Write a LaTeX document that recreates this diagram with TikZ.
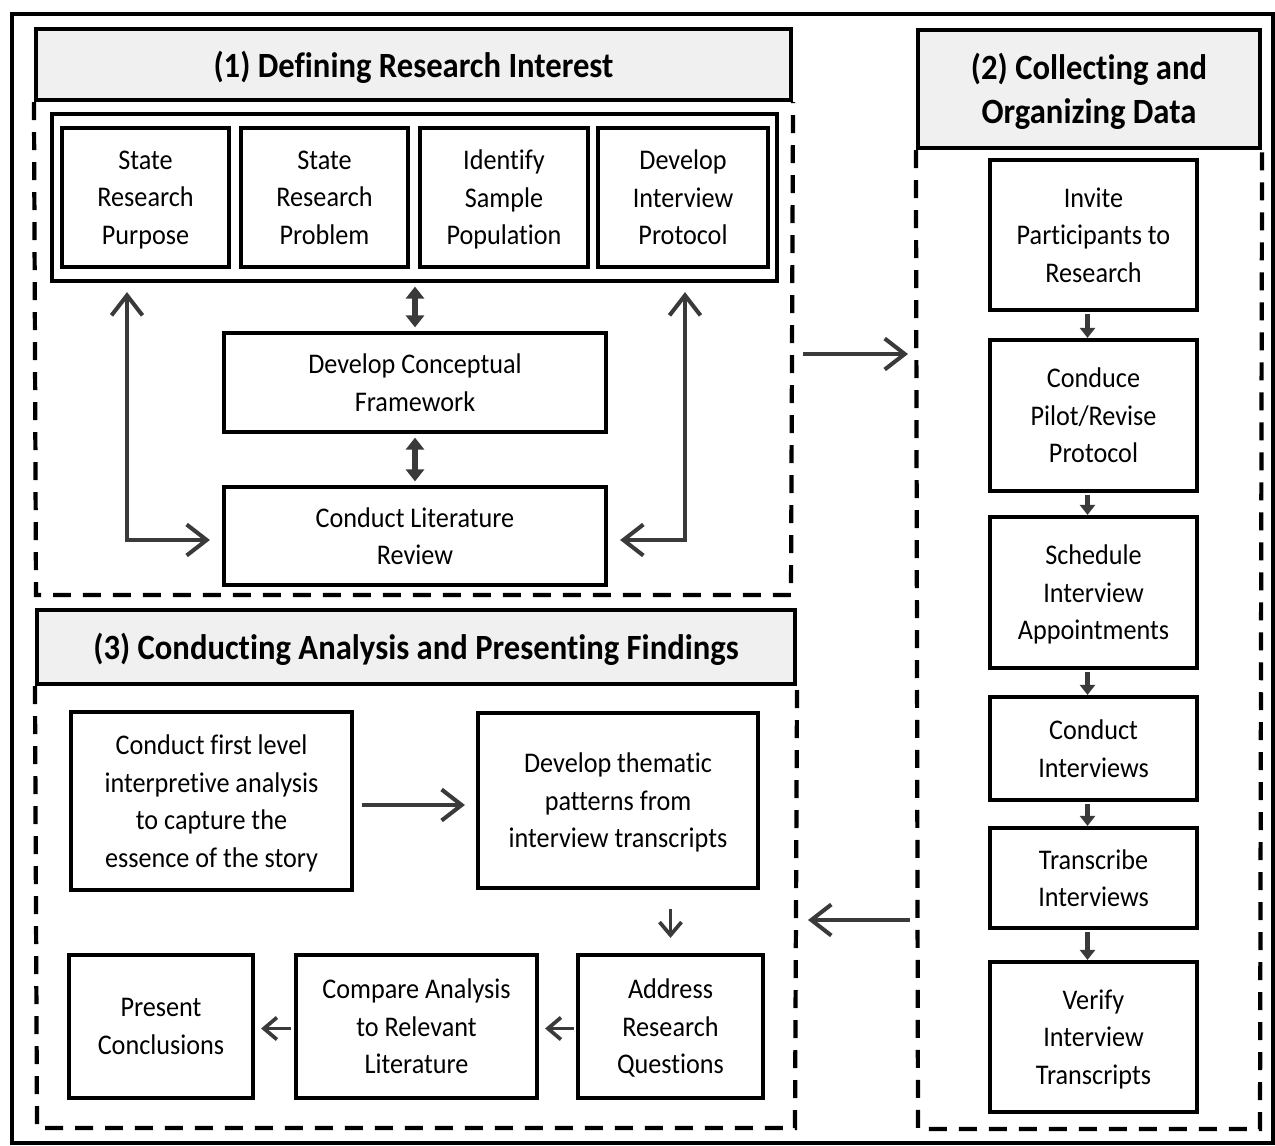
\documentclass[tikz,border=0pt]{standalone}
\usepackage{fontspec}
\setmainfont{Carlito}[FakeStretch=0.92,Ligatures=NoCommon]
\usetikzlibrary{arrows.meta}
\definecolor{hdrgray}{RGB}{240,240,240}
\definecolor{arrgray}{RGB}{58,58,58}
\newcommand\stepfont{\fontsize{16.2}{21.3}\selectfont}
\newcommand\sechdrfont{\fontsize{20.2}{25.5}\selectfont\bfseries}

\begin{document}
\begin{tikzpicture}[x=0.02cm,y=-0.02cm,
  hdr/.style={draw,line width=2.4pt,fill=hdrgray,align=center,font=\sechdrfont,inner sep=0pt,
    execute at begin node={\rule{0pt}{20pt}},execute at end node={\rule[-5.3pt]{0pt}{5.3pt}}},
  stepbox/.style={draw,line width=2.4pt,fill=white,align=center,font=\stepfont,inner sep=0pt,text depth=-2.3pt},
  region/.style={line width=2.4pt,dash pattern=on 0.36cm off 0.24cm},
  flow/.style={-{Straight Barb[length=0.4cm,width=0.62cm]},line width=2.3pt,draw=arrgray},
  shortflow/.style={-{Straight Barb[length=0.26cm,width=0.44cm]},line width=2.1pt,draw=arrgray},
  both/.style={{Straight Barb[length=0.4cm,width=0.62cm]}-{Straight Barb[length=0.4cm,width=0.62cm]},line width=2.3pt,draw=arrgray},
  dbl/.style={{Triangle[length=0.24cm,width=0.36cm]}-{Triangle[length=0.24cm,width=0.36cm]},line width=3.2pt,draw=arrgray},
  down/.style={-{Triangle[length=0.2cm,width=0.3cm]},line width=2.6pt,draw=arrgray}]
\useasboundingbox (0,0) rectangle (1275,1146);
\draw[line width=2.4pt] (12,14) rectangle (1273,1143);

% (1) defining research interest
\node[hdr,minimum width=15.1cm,minimum height=1.42cm] (h1) at (413.5,64.5) {(1) Defining Research Interest};
\draw[region] (h1.south west) -- (36,595) -- (791,595) -- (h1.south east);
\node[draw,line width=2.4pt,minimum width=14.5cm,minimum height=3.34cm] (aims) at (414.5,197.5) {};
\node[stepbox,minimum width=3.34cm,minimum height=2.78cm] (purpose) at (145.5,197.5) {State\\Research\\Purpose};
\node[stepbox,minimum width=3.34cm,minimum height=2.78cm] (problem) at (324.5,197.5) {State\\Research\\Problem};
\node[stepbox,minimum width=3.36cm,minimum height=2.78cm] (sample) at (504,197.5) {Identify\\Sample\\Population};
\node[stepbox,minimum width=3.4cm,minimum height=2.78cm] (protocol) at (683,197.5) {Develop\\Interview\\Protocol};
\node[stepbox,minimum width=7.64cm,minimum height=1.98cm] (frame) at (415,382.5) {Develop Conceptual\\Framework};
\node[stepbox,minimum width=7.64cm,minimum height=1.96cm] (litrev) at (415,536) {Conduct Literature\\Review};
\coordinate (lc) at (127,540);
\coordinate (rc) at (685,540);
\draw[dbl,shorten <=2pt,shorten >=2pt] (aims.south -| frame) -- (frame.north);
\draw[dbl,shorten <=2pt,shorten >=2pt] (frame.south) -- (litrev.north);
\draw[both,shorten <=0.18cm,shorten >=0.24cm] (lc |- aims.south) -- (lc) -- (lc -| litrev.west);
\draw[both,shorten <=0.18cm,shorten >=0.24cm] (rc |- aims.south) -- (rc) -- (rc -| litrev.east);

% (2) collecting and organizing data
\node[hdr,minimum width=6.84cm,minimum height=2.36cm,text depth=0.7pt] (h2) at (1089,89) {(2) Collecting and\\Organizing Data};
\draw[region] (h2.south west) -- (918,1129) -- (1260,1129) -- (h2.south east);
\node[stepbox,minimum width=4.14cm,minimum height=3.0cm] (invite) at (1093.5,235) {Invite\\Participants to\\Research};
\node[stepbox,minimum width=4.14cm,minimum height=3.02cm] (pilot) at (1093.5,415.5) {Conduce\\Pilot/Revise\\Protocol};
\node[stepbox,minimum width=4.14cm,minimum height=3.02cm] (sched) at (1093.5,592.5) {Schedule\\Interview\\Appointments};
\node[stepbox,minimum width=4.14cm,minimum height=2.06cm] (conduct) at (1093.5,748.5) {Conduct\\Interviews};
\node[stepbox,minimum width=4.14cm,minimum height=2.0cm] (transcr) at (1093.5,878) {Transcribe\\Interviews};
\node[stepbox,minimum width=4.14cm,minimum height=3.0cm] (verify) at (1093.5,1037) {Verify\\Interview\\Transcripts};
\foreach \a/\b in {invite/pilot,pilot/sched,sched/conduct,conduct/transcr,transcr/verify}
  \draw[down,shorten <=1pt] ([xshift=-0.12cm]\a.south) -- ([xshift=-0.12cm]\b.north);

% (3) conducting analysis and presenting findings
\node[hdr,minimum width=15.16cm,minimum height=1.48cm] (h3) at (416,647) {(3) Conducting Analysis and Presenting Findings};
\draw[region] (h3.south west) -- (37,1128) -- (795,1128) -- (h3.south east);
\node[stepbox,minimum width=5.62cm,minimum height=3.56cm] (firstlvl) at (211.5,801) {Conduct first level\\interpretive analysis\\to capture the\\essence of the story};
\node[stepbox,minimum width=5.6cm,minimum height=3.5cm] (themes) at (618,800.5) {Develop thematic\\patterns from\\interview transcripts};
\node[stepbox,minimum width=3.7cm,minimum height=2.86cm] (address) at (670.5,1026.5) {Address\\Research\\Questions};
\node[stepbox,minimum width=4.82cm,minimum height=2.86cm] (compare) at (416.5,1026.5) {Compare Analysis\\to Relevant\\Literature};
\node[stepbox,minimum width=3.68cm,minimum height=2.86cm] (present) at (161,1026.5) {Present\\Conclusions};
\draw[flow,shorten <=0.16cm,shorten >=0.22cm] ([yshift=-0.08cm]firstlvl.east) -- ([yshift=-0.08cm]firstlvl.east -| themes.west);
\draw[shortflow,shorten <=0.38cm,shorten >=0.3cm] (themes.south -| address) -- (address.north);
\draw[shortflow,shorten <=0.04cm,shorten >=0.12cm] ([yshift=-0.04cm]address.west) -- ([yshift=-0.04cm]compare.east);
\draw[shortflow,shorten <=0.06cm,shorten >=0.12cm] ([yshift=-0.04cm]compare.west) -- ([yshift=-0.04cm]present.east);

% between sections
\coordinate (s1out) at (791,354);
\coordinate (s2in) at (918,354);
\coordinate (s2out) at (918,920);
\coordinate (s3in) at (795,920);
\draw[flow,shorten <=0.24cm,shorten >=0.2cm] (s1out) -- (s2in);
\draw[flow,shorten <=0.16cm,shorten >=0.26cm] (s2out) -- (s3in);
\end{tikzpicture}
\end{document}
